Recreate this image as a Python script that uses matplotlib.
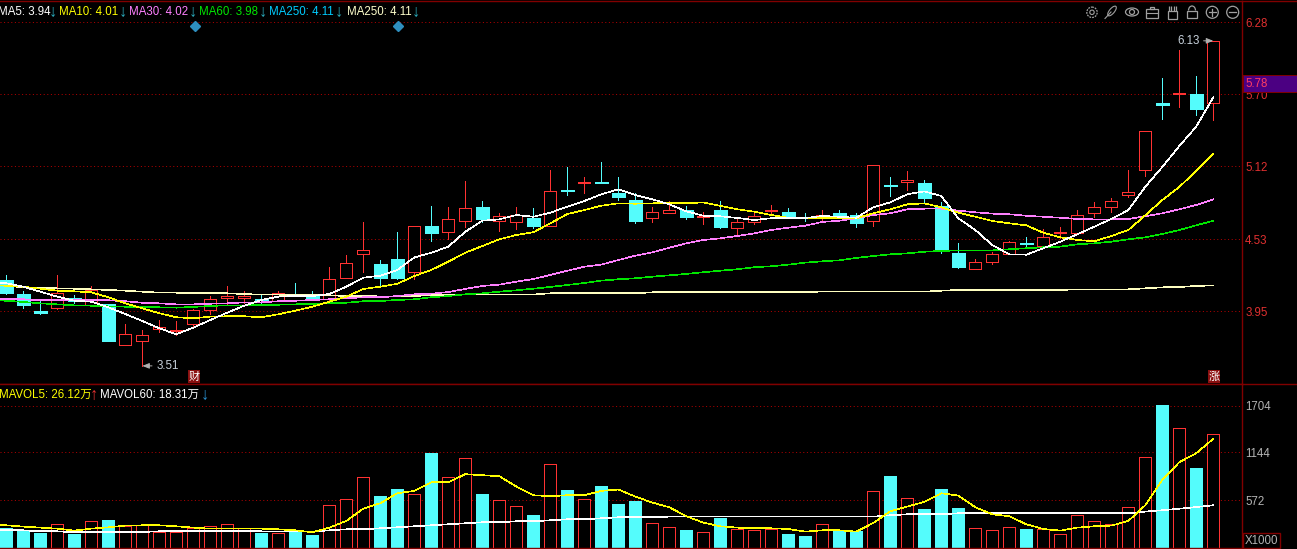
import matplotlib
matplotlib.use("Agg")
import matplotlib.pyplot as plt
from matplotlib.patches import Rectangle, Circle, Ellipse, Arc

plt.rcParams['font.family'] = ['Liberation Sans', 'Noto Sans CJK SC', 'DejaVu Sans']
plt.rcParams['font.size'] = 8.3

# K线数据
open_ = [4.20, 4.09, 3.95, 3.98, 4.06, 4.00, 4.01, 3.68, 3.71, 3.81, 3.79, 3.85, 3.96, 4.06, 4.06, 4.05, 4.03, 4.09,
         4.09, 4.05, 4.22, 4.41, 4.33, 4.37, 4.27, 4.64, 4.59, 4.68, 4.79, 4.68, 4.67, 4.70, 4.64, 4.93, 4.98, 4.99,
         4.90, 4.85, 4.70, 4.74, 4.77, 4.71, 4.77, 4.62, 4.67, 4.76, 4.75, 4.71, 4.70, 4.74, 4.73, 4.68, 4.97, 4.99,
         4.98, 4.80, 4.42, 4.29, 4.35, 4.41, 4.50, 4.48, 4.58, 4.58, 4.74, 4.79, 4.89, 5.09, 5.63, 5.70, 5.70, 5.63]
high = [4.24, 4.11, 4.03, 4.24, 4.08, 4.15, 4.01, 3.85, 3.80, 3.88, 3.87, 3.97, 4.07, 4.15, 4.11, 4.09, 4.11, 4.18,
        4.11, 4.31, 4.40, 4.67, 4.36, 4.59, 4.64, 4.80, 4.79, 5.00, 4.84, 4.74, 4.79, 4.78, 5.09, 5.11, 5.03, 5.15,
        5.03, 4.90, 4.79, 4.84, 4.80, 4.75, 4.84, 4.70, 4.75, 4.81, 4.78, 4.74, 4.77, 4.77, 4.74, 5.13, 5.03, 5.08,
        5.01, 4.83, 4.50, 4.37, 4.43, 4.52, 4.55, 4.61, 4.63, 4.77, 4.83, 4.86, 5.09, 5.40, 5.83, 6.06, 5.85, 6.13]
low = [4.09, 3.98, 3.93, 3.97, 4.02, 4.00, 3.71, 3.68, 3.51, 3.78, 3.76, 3.83, 3.93, 4.01, 4.02, 4.01, 4.03, 4.08,
       4.04, 4.04, 4.22, 4.27, 4.15, 4.21, 4.21, 4.52, 4.53, 4.63, 4.67, 4.60, 4.61, 4.62, 4.64, 4.89, 4.90, 4.98,
       4.85, 4.66, 4.67, 4.74, 4.69, 4.65, 4.62, 4.57, 4.65, 4.73, 4.70, 4.68, 4.67, 4.70, 4.63, 4.64, 4.88, 4.93,
       4.82, 4.42, 4.30, 4.29, 4.33, 4.41, 4.46, 4.48, 4.54, 4.58, 4.71, 4.75, 4.87, 5.04, 5.50, 5.60, 5.53, 5.49]
close = [4.10, 4.00, 3.94, 4.10, 4.03, 4.12, 3.71, 3.77, 3.76, 3.82, 3.80, 3.96, 4.05, 4.07, 4.07, 4.04, 4.10, 4.08,
         4.05, 4.21, 4.34, 4.44, 4.22, 4.22, 4.64, 4.58, 4.69, 4.78, 4.69, 4.72, 4.73, 4.64, 4.92, 4.92, 4.99, 4.98,
         4.87, 4.68, 4.75, 4.77, 4.71, 4.72, 4.63, 4.67, 4.72, 4.77, 4.70, 4.70, 4.73, 4.73, 4.66, 5.13, 4.96, 5.01,
         4.86, 4.44, 4.31, 4.35, 4.41, 4.51, 4.49, 4.55, 4.59, 4.73, 4.79, 4.84, 4.91, 5.40, 5.61, 5.71, 5.58, 6.13]

# 均线，第一个点在图左边缘之外
ma5 = [4.190, 4.176, 4.148, 4.108, 4.068, 4.035, 4.027, 3.982, 3.928, 3.872, 3.813, 3.765, 3.818, 3.880, 3.939, 3.995, 4.041,
       4.068, 4.073, 4.073, 4.089, 4.148, 4.221, 4.237, 4.283, 4.384, 4.422, 4.471, 4.591, 4.680, 4.691, 4.726, 4.712,
       4.745, 4.793, 4.839, 4.893, 4.933, 4.887, 4.853, 4.812, 4.756, 4.720, 4.716, 4.702, 4.686, 4.700, 4.700, 4.702,
       4.718, 4.712, 4.704, 4.788, 4.828, 4.893, 4.917, 4.879, 4.700, 4.605, 4.484, 4.409, 4.406, 4.458, 4.511, 4.571,
       4.632, 4.694, 4.766, 4.954, 5.113, 5.282, 5.439, 5.675]
ma10 = [4.160, 4.156, 4.148, 4.132, 4.116, 4.111, 4.103, 4.063, 4.014, 3.974, 3.934, 3.902, 3.893, 3.907, 3.910, 3.910, 3.902,
        3.926, 3.955, 3.987, 4.027, 4.068, 4.130, 4.148, 4.172, 4.234, 4.283, 4.350, 4.422, 4.476, 4.530, 4.565, 4.587,
        4.659, 4.734, 4.766, 4.801, 4.820, 4.817, 4.820, 4.825, 4.820, 4.828, 4.799, 4.772, 4.753, 4.726, 4.704, 4.704,
        4.704, 4.704, 4.700, 4.740, 4.772, 4.812, 4.820, 4.788, 4.745, 4.712, 4.678, 4.659, 4.643, 4.583, 4.546, 4.525,
        4.514, 4.557, 4.605, 4.724, 4.847, 4.952, 5.083, 5.218]
ma30 = [4.050, 4.047, 4.047, 4.039, 4.041, 4.041, 4.041, 4.039, 4.031, 4.019, 4.014, 4.006, 4.006, 4.011, 4.014, 4.022, 4.022,
        4.031, 4.035, 4.041, 4.047, 4.055, 4.063, 4.063, 4.073, 4.087, 4.092, 4.105, 4.130, 4.154, 4.165, 4.189, 4.210,
        4.243, 4.277, 4.309, 4.326, 4.363, 4.398, 4.425, 4.462, 4.498, 4.525, 4.538, 4.557, 4.578, 4.605, 4.624, 4.640,
        4.670, 4.680, 4.700, 4.726, 4.740, 4.772, 4.777, 4.777, 4.761, 4.748, 4.737, 4.732, 4.720, 4.712, 4.704, 4.694,
        4.691, 4.691, 4.694, 4.716, 4.740, 4.772, 4.807, 4.853]
ma60 = [4.040, 4.035, 4.025, 4.014, 4.006, 3.998, 3.995, 3.990, 3.987, 3.987, 3.982, 3.979, 3.985, 3.993, 3.998, 3.998, 4.001,
        4.003, 4.006, 4.009, 4.014, 4.019, 4.031, 4.033, 4.041, 4.047, 4.063, 4.073, 4.087, 4.095, 4.108, 4.119, 4.132,
        4.146, 4.162, 4.178, 4.197, 4.208, 4.216, 4.229, 4.240, 4.251, 4.265, 4.277, 4.289, 4.305, 4.313, 4.326, 4.342,
        4.353, 4.361, 4.380, 4.396, 4.409, 4.417, 4.430, 4.436, 4.441, 4.441, 4.441, 4.450, 4.458, 4.466, 4.471, 4.490,
        4.498, 4.511, 4.530, 4.546, 4.573, 4.605, 4.643, 4.680]
ma250 = [4.160, 4.156, 4.143, 4.143, 4.135, 4.132, 4.127, 4.122, 4.116, 4.108, 4.100, 4.100, 4.095, 4.095, 4.095, 4.089, 4.084,
         4.084, 4.079, 4.079, 4.079, 4.073, 4.076, 4.069, 4.069, 4.073, 4.081, 4.085, 4.085, 4.085, 4.085, 4.085, 4.085,
         4.095, 4.095, 4.095, 4.095, 4.095, 4.095, 4.103, 4.103, 4.103, 4.103, 4.103, 4.103, 4.103, 4.103, 4.103, 4.103,
         4.110, 4.108, 4.108, 4.108, 4.108, 4.108, 4.108, 4.116, 4.122, 4.122, 4.122, 4.122, 4.122, 4.122, 4.122, 4.127,
         4.127, 4.127, 4.127, 4.135, 4.143, 4.146, 4.154, 4.159]

# 成交量
volume = [240, 212, 180, 284, 168, 320, 336, 260, 272, 196, 188, 236, 260, 284, 236, 180, 176, 208, 156, 512, 584, 848,
          624, 708, 644, 1140, 848, 1076, 648, 572, 500, 396, 1004, 696, 584, 744, 528, 564, 296, 248, 216, 188, 360,
          224, 212, 232, 168, 144, 284, 212, 200, 680, 864, 596, 468, 708, 480, 236, 212, 248, 228, 224, 164, 392, 320,
          284, 488, 1088, 1716, 1436, 960, 1364]
mavol5 = [276, 272, 256, 244, 232, 208, 232, 248, 268, 272, 272, 260, 244, 232, 232, 232, 232, 224, 212, 188, 244, 324, 472,
          536, 656, 684, 788, 788, 884, 872, 860, 736, 632, 620, 632, 632, 684, 700, 616, 544, 488, 380, 304, 260, 244,
          236, 236, 228, 196, 212, 212, 196, 300, 440, 496, 552, 656, 628, 488, 404, 380, 284, 228, 208, 244, 260, 268,
          324, 512, 816, 1028, 1136, 1308]
mavol60 = [212, 212, 212, 200, 200, 188, 188, 188, 192, 192, 200, 200, 200, 200, 200, 200, 200, 196, 196, 196, 212, 224, 224,
           236, 248, 260, 272, 284, 296, 308, 308, 320, 320, 332, 344, 344, 356, 368, 368, 368, 376, 376, 376, 376, 376,
           376, 376, 376, 376, 376, 376, 376, 376, 392, 404, 404, 404, 416, 416, 416, 416, 416, 416, 416, 416, 416, 416,
           416, 436, 452, 470, 490, 512]

price_ticks = [3.95, 4.53, 5.12, 5.70, 6.28]
vol_ticks = [572, 1144, 1704]

ma_labels = [("MA5: 3.94", "#ffffff", -2, 53), ("MA10: 4.01", "#ffff00", 59, 123), ("MA30: 4.02", "#ff80ff", 129, 193),
             ("MA60: 3.98", "#00e600", 199, 263), ("MA250: 4.11", "#00ccff", 269, 339),
             ("MA250: 4.11", "#ffffcc", 347, 416)]

W, H = 1297, 549
RED = "#ff3232"
CYAN = "#54fcfc"
DARK = "#800000"
GRID = "#b00000"
LW = 0.6
MA_LW = 0.45
n = len(close)
x = list(range(n))
line_x = list(range(-1, n))
xlim = (-6.3 / 17, (1242.3 - 6.3) / 17)

fig = plt.figure(figsize=(W / 100, H / 100), dpi=100, facecolor="black")
ax = fig.add_axes([0, 1 - 384 / H, 1242.3 / W, 383 / H], facecolor="black")
ax_v = fig.add_axes([0, 1 - 548 / H, 1242.3 / W, 164 / H], facecolor="black")

for a in (ax, ax_v):
    a.set_xlim(*xlim)
    a.set_xticks([])
    a.yaxis.tick_right()
    a.tick_params(axis="y", length=0, pad=2)
    a.grid(axis="y", color=GRID, linestyle=(0, (1, 2.6)), linewidth=0.72)
    a.set_axisbelow(True)
    for s in a.spines.values():
        s.set_color(DARK)
        s.set_linewidth(1)
    a.spines["left"].set_visible(False)

ax.set_ylim(6.459 - 0.00806 * 384, 6.459 - 0.00806 * 1)
ax.set_yticks(price_ticks)
ax.set_yticklabels([f"{t:.2f}" for t in price_ticks], color="#e03030")
ax_v.set_ylim(0, 164 / 0.0835)
ax_v.set_yticks(vol_ticks)
ax_v.set_yticklabels([str(t) for t in vol_ticks], color="#b4b4b4")

# 蜡烛
ups = [c > o for o, c in zip(open_, close)]
for i in x:
    col = RED if ups[i] else CYAN
    ax.vlines(i, low[i], high[i], color=col, linewidth=LW, zorder=2, antialiased=False)
    bottom = min(open_[i], close[i])
    height = abs(close[i] - open_[i])
    if ups[i]:
        ax.bar(i, height, 0.72, bottom=bottom, facecolor="black", edgecolor=RED, linewidth=LW, zorder=3,
               antialiased=False)
        ax_v.bar(i, volume[i], 0.72, facecolor="black", edgecolor=RED, linewidth=LW, zorder=2, antialiased=False)
    else:
        ax.bar(i, height, 0.76, bottom=bottom, facecolor=CYAN, edgecolor=CYAN, linewidth=0.4, zorder=3,
               antialiased=False)
        ax_v.bar(i, volume[i], 0.76, facecolor=CYAN, edgecolor=CYAN, linewidth=0, zorder=2, antialiased=False)

# 均线
ax.plot(line_x, ma250, color="#ffffc0", linewidth=MA_LW, zorder=4, antialiased=False)
ax.plot(line_x, ma60, color="#00e600", linewidth=MA_LW, zorder=4, antialiased=False)
ax.plot(line_x, ma30, color="#ff80ff", linewidth=MA_LW, zorder=4, antialiased=False)
ax.plot(line_x, ma10, color="#ffff00", linewidth=MA_LW, zorder=5, antialiased=False)
ax.plot(line_x, ma5, color="#ffffff", linewidth=MA_LW, zorder=6, antialiased=False)
ax_v.plot(line_x, mavol60, color="#ffffff", linewidth=MA_LW, zorder=3, antialiased=False)
ax_v.plot(line_x, mavol5, color="#ffff00", linewidth=MA_LW, zorder=4, antialiased=False)

# 最高最低标注
ax.annotate(f"{max(high):.2f}", xy=(high.index(max(high)), max(high)), xytext=(-10, 0), textcoords="offset points",
            color="#c8d2dc", va="center", ha="right", zorder=7,
            arrowprops=dict(arrowstyle="-|>,head_width=0.2,head_length=0.5", color="#b0b0b0", lw=0.7, shrinkA=1, shrinkB=0))
ax.annotate(f"{min(low):.2f}", xy=(low.index(min(low)), min(low)), xytext=(10, 0), textcoords="offset points",
            color="#c8d2dc", va="center", ha="left", zorder=7,
            arrowprops=dict(arrowstyle="-|>,head_width=0.2,head_length=0.5", color="#b0b0b0", lw=0.7, shrinkA=1, shrinkB=0))

# 覆盖层：文字和工具栏
ov = fig.add_axes([0, 0, 1, 1], zorder=10)
ov.set_xlim(0, W)
ov.set_ylim(H, 0)
ov.axis("off")
ov.patch.set_alpha(0)

ov.plot([1242, W], [384.3, 384.3], color=DARK, lw=1)
ov.plot([1242, W], [1, 1], color=DARK, lw=1)

for text, col, tx, ar_x in ma_labels:
    ov.text(tx, 12, text, color=col, va="center", ha="left")
    ov.text(ar_x, 12, "↓", color="#2aa8b8", va="center", ha="center", fontsize=12)

ov.text(-1, 395, "MAVOL5: 26.12万", color="#ffff00", va="center", ha="left")
ov.text(94, 395, "↑", color="#e03030", va="center", ha="center", fontsize=12)
ov.text(100.5, 395, "MAVOL60: 18.31万", color="#ffffff", va="center", ha="left")
ov.text(205, 395, "↓", color="#2a90d0", va="center", ha="center", fontsize=12)

ov.plot([195, 398], [26, 26], linestyle="none", marker="D", markersize=4.8, color="#2e8fbf")

# 现价框
ov.add_patch(Rectangle((1243, 75), 54, 17.3, facecolor="#4b0082", edgecolor="#800000", linewidth=0.7))
ov.text(1245, 84, "5.78", color="#ff3c64", va="center", ha="left")

# X1000
ov.add_patch(Rectangle((1243, 533), 37, 15, facecolor="black", edgecolor="#800000", linewidth=1))
ov.text(1244.5, 541, "X1000", color="#b4b4b4", va="center", ha="left")

# 财 涨
for bx, ch in [(188, "财"), (1208, "涨")]:
    ov.add_patch(Rectangle((bx, 370), 12, 13, facecolor="#8b1010", edgecolor="none"))
    ov.text(bx + 6, 376.5, ch, color="#ffffff", va="center", ha="center", fontsize=8)

# 工具栏图标
ICON = "#a0a0a0"
ov.add_patch(Circle((1092, 12.3), 5.2, fill=False, ec=ICON, lw=0.9, linestyle=(0, (1.5, 0.8))))
ov.add_patch(Circle((1092, 12.3), 2.2, fill=False, ec=ICON, lw=0.8))
ov.add_patch(Ellipse((1112, 11), 5, 12, angle=40, fill=False, ec=ICON, lw=0.8))
ov.plot([1105, 1111], [18.5, 12], color=ICON, lw=0.8)
ov.add_patch(Ellipse((1132, 12), 13, 8, fill=False, ec=ICON, lw=0.9))
ov.add_patch(Circle((1132, 12), 2.5, fill=False, ec=ICON, lw=0.9))
ov.add_patch(Rectangle((1146, 9), 11.5, 9, fill=False, ec=ICON, lw=0.9))
ov.add_patch(Rectangle((1149.5, 6.5), 4.5, 2.5, fill=False, ec=ICON, lw=0.9))
ov.plot([1146, 1157.5], [12.5, 12.5], color=ICON, lw=0.8)
ov.add_patch(Rectangle((1168, 11), 9, 7.5, fill=False, ec=ICON, lw=0.9))
ov.vlines([1168.5, 1171, 1173.5, 1176], 6, 11, color=ICON, lw=0.9)
ov.add_patch(Rectangle((1187, 10.5), 10, 7.5, fill=False, ec=ICON, lw=0.9))
ov.add_patch(Arc((1192, 10.5), 7, 9, theta1=180, theta2=360, ec=ICON, lw=0.9))
for cx in (1212.3, 1232.7):
    ov.add_patch(Circle((cx, 12.3), 6, fill=False, ec=ICON, lw=0.9))
    ov.plot([cx - 3.5, cx + 3.5], [12.3, 12.3], color=ICON, lw=0.9)
ov.plot([1212.3, 1212.3], [8.8, 15.8], color=ICON, lw=0.9)

fig.savefig("out.png", dpi=100, facecolor="black")
